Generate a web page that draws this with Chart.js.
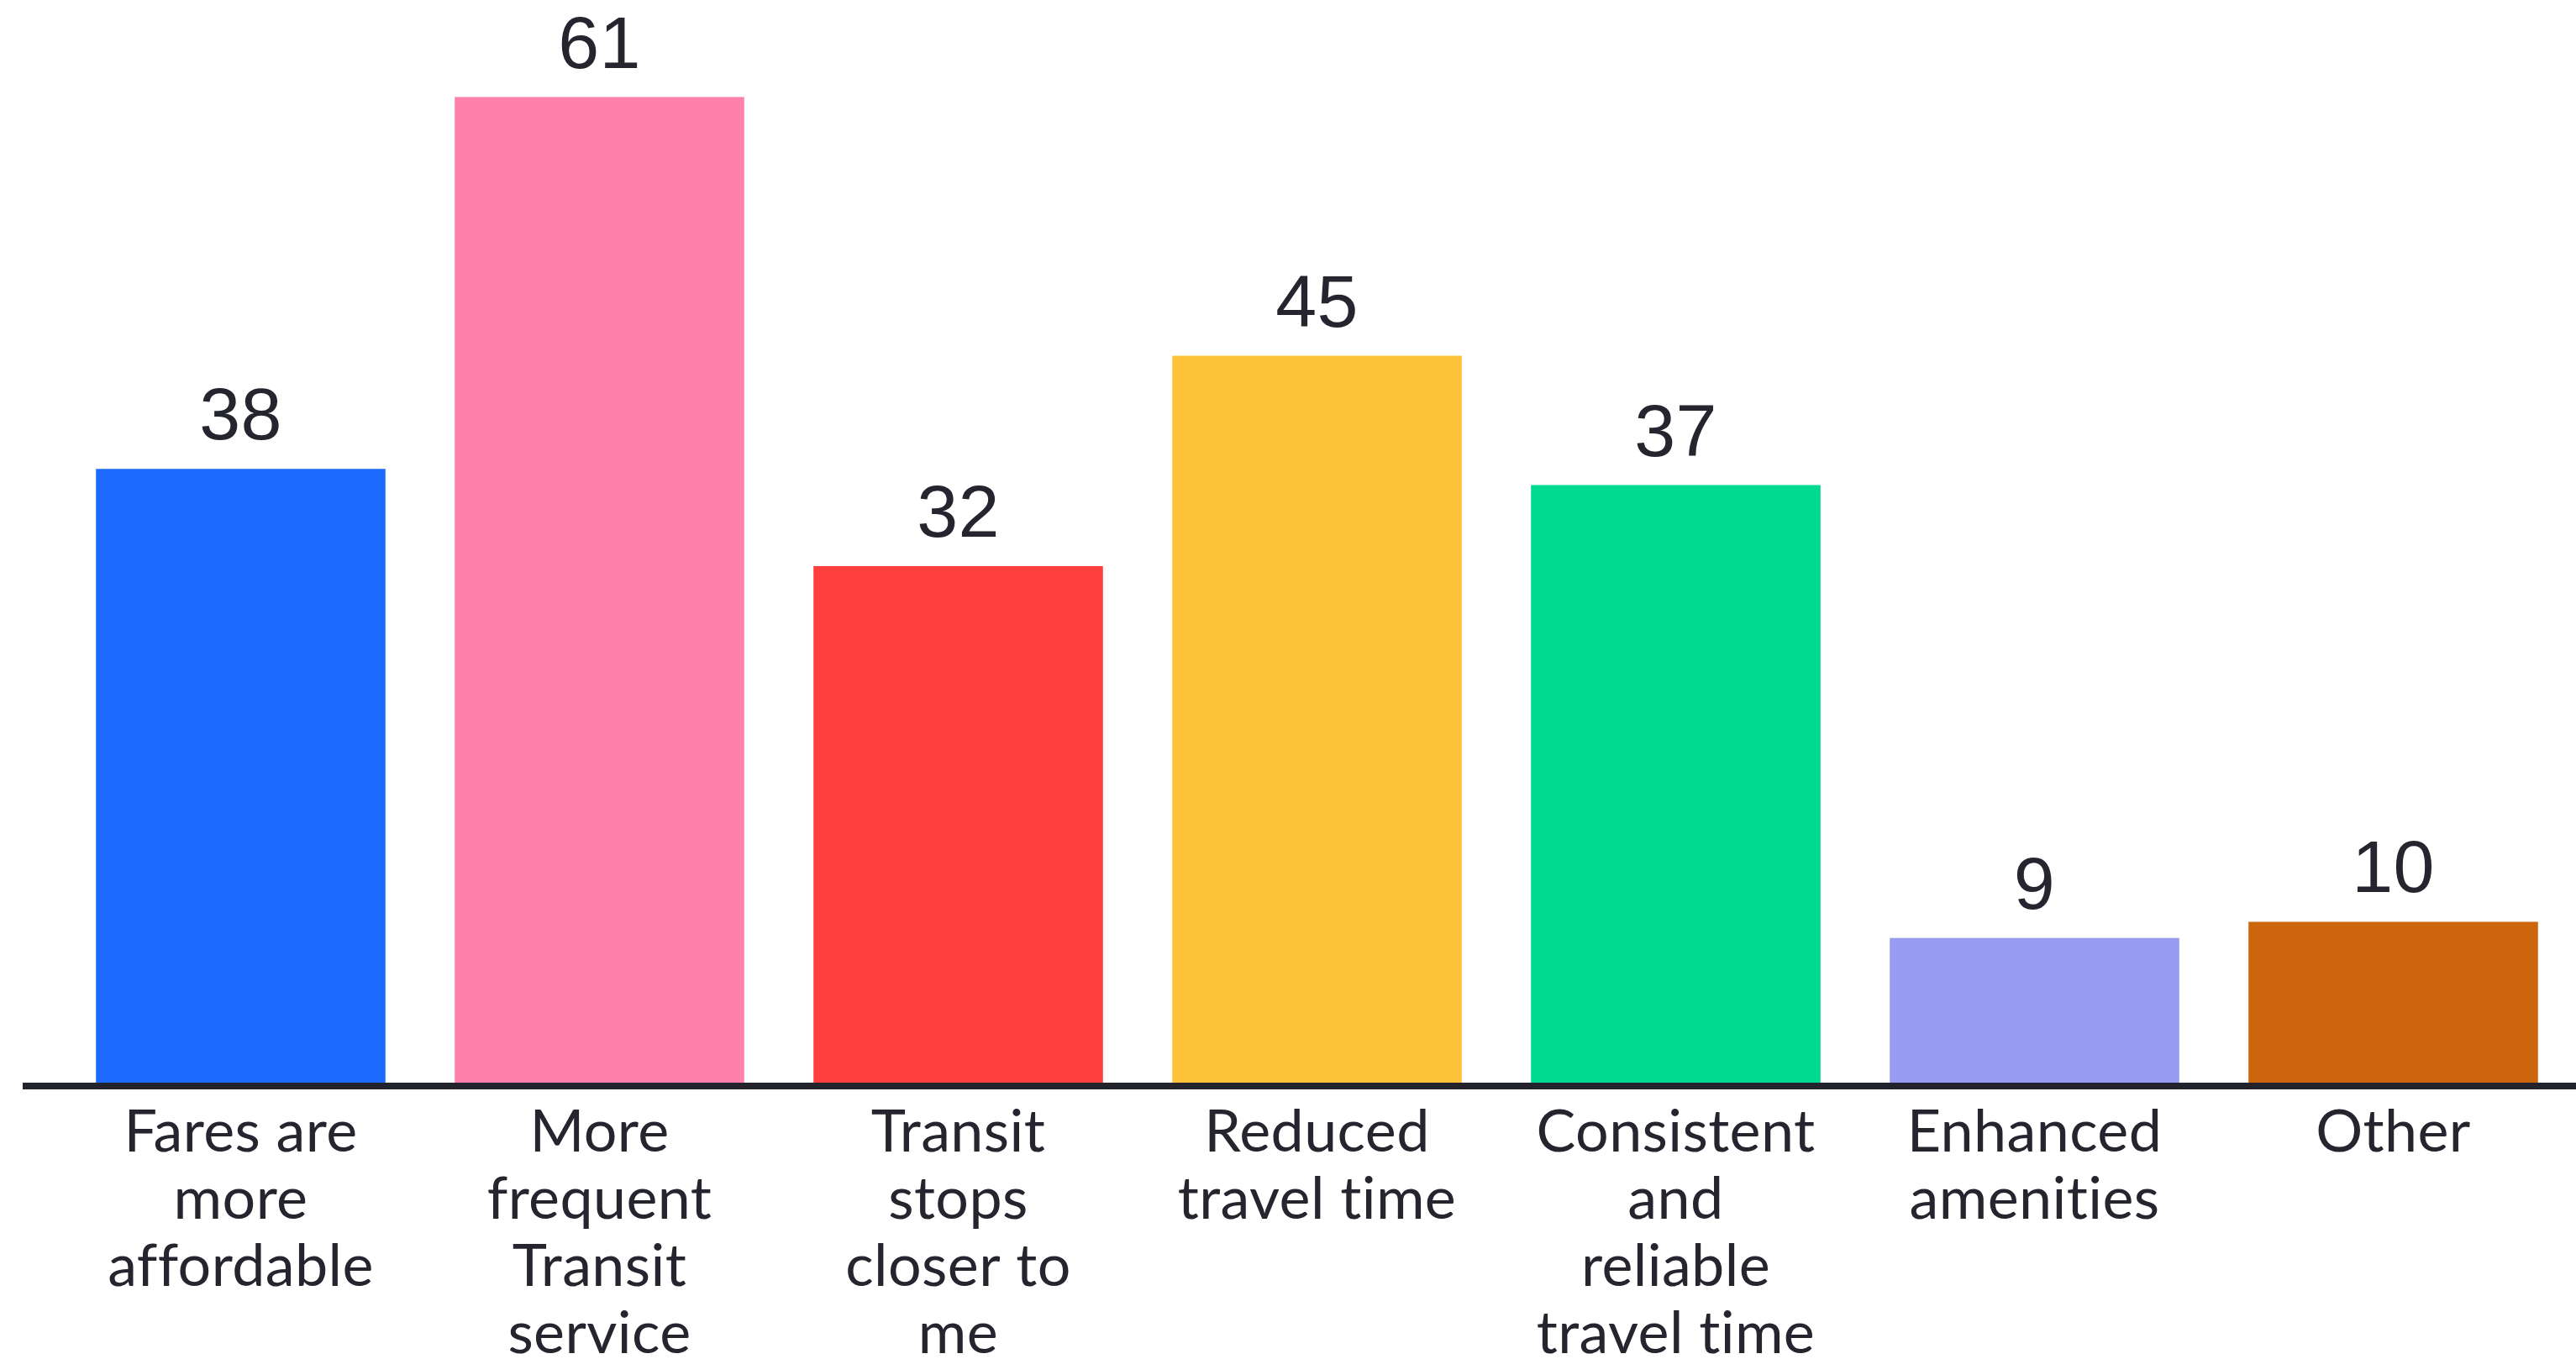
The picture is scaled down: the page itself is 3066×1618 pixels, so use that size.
<!DOCTYPE html>
<html>
<head>
<meta charset="utf-8">
<script src="https://cdn.jsdelivr.net/npm/chart.js@4.4.1/dist/chart.umd.min.js"></script>
<style>
  html, body { margin: 0; padding: 0; background: #ffffff; }
  #wrap { width: 3066px; height: 1618px; position: relative; }
</style>
</head>
<body>
<div id="wrap"><canvas id="c"></canvas></div>
<script>
const categories = [
  ["Fares are", "more", "affordable"],
  ["More", "frequent", "Transit", "service"],
  ["Transit", "stops", "closer to", "me"],
  ["Reduced", "travel time"],
  ["Consistent", "and", "reliable", "travel time"],
  ["Enhanced", "amenities"],
  ["Other"]
];
const values = [38, 61, 32, 45, 37, 9, 10];
const barColors = ["#1E6BFF", "#FF80AA", "#FF3F3D", "#FEC33A", "#00D990", "#979BF2", "#CC650C"];

const TEXT = "#25252f";

const noLigatures = {
  id: "noLigatures",
  beforeDraw(chart) {
    if ("letterSpacing" in chart.ctx) chart.ctx.letterSpacing = "0.4px";
  }
};

const valueLabels = {
  id: "valueLabels",
  afterDatasetsDraw(chart) {
    const ctx = chart.ctx;
    const meta = chart.getDatasetMeta(0);
    ctx.save();
    ctx.font = "88px 'Liberation Sans', Arial, sans-serif";
    ctx.fillStyle = TEXT;
    ctx.textAlign = "center";
    ctx.textBaseline = "alphabetic";
    meta.data.forEach((bar, i) => {
      ctx.fillText(String(chart.data.datasets[0].data[i]), bar.x, bar.y - 35);
    });
    ctx.restore();
  }
};

const baseLine = {
  id: "baseLine",
  afterDatasetsDraw(chart) {
    const ctx = chart.ctx;
    const y = chart.scales.y.getPixelForValue(0);
    ctx.save();
    ctx.fillStyle = "#23232e";
    ctx.fillRect(27, y - 1, chart.width - 27, 8);
    ctx.restore();
  }
};

new Chart(document.getElementById("c"), {
  type: "bar",
  data: {
    labels: categories,
    datasets: [{
      data: values,
      backgroundColor: barColors,
      borderWidth: 0,
      categoryPercentage: 1.0,
      barPercentage: 0.807
    }]
  },
  plugins: [noLigatures, baseLine, valueLabels],
  options: {
    responsive: true,
    maintainAspectRatio: false,
    animation: false,
    devicePixelRatio: 1,
    layout: { padding: { left: 73, right: 4, top: 0, bottom: 0 } },
    plugins: { legend: { display: false }, tooltip: { enabled: false } },
    scales: {
      x: {
        grid: { display: false, drawTicks: false },
        border: { display: false },
        afterFit(scale) { scale.height = 328; },
        ticks: {
          color: TEXT,
          padding: 18,
          maxRotation: 0,
          autoSkip: false,
          font: { family: "Lato, 'Open Sans', sans-serif", size: 70, lineHeight: 1.143 }
        }
      },
      y: {
        display: false,
        min: 0,
        max: 67
      }
    }
  }
});
</script>
</body>
</html>
